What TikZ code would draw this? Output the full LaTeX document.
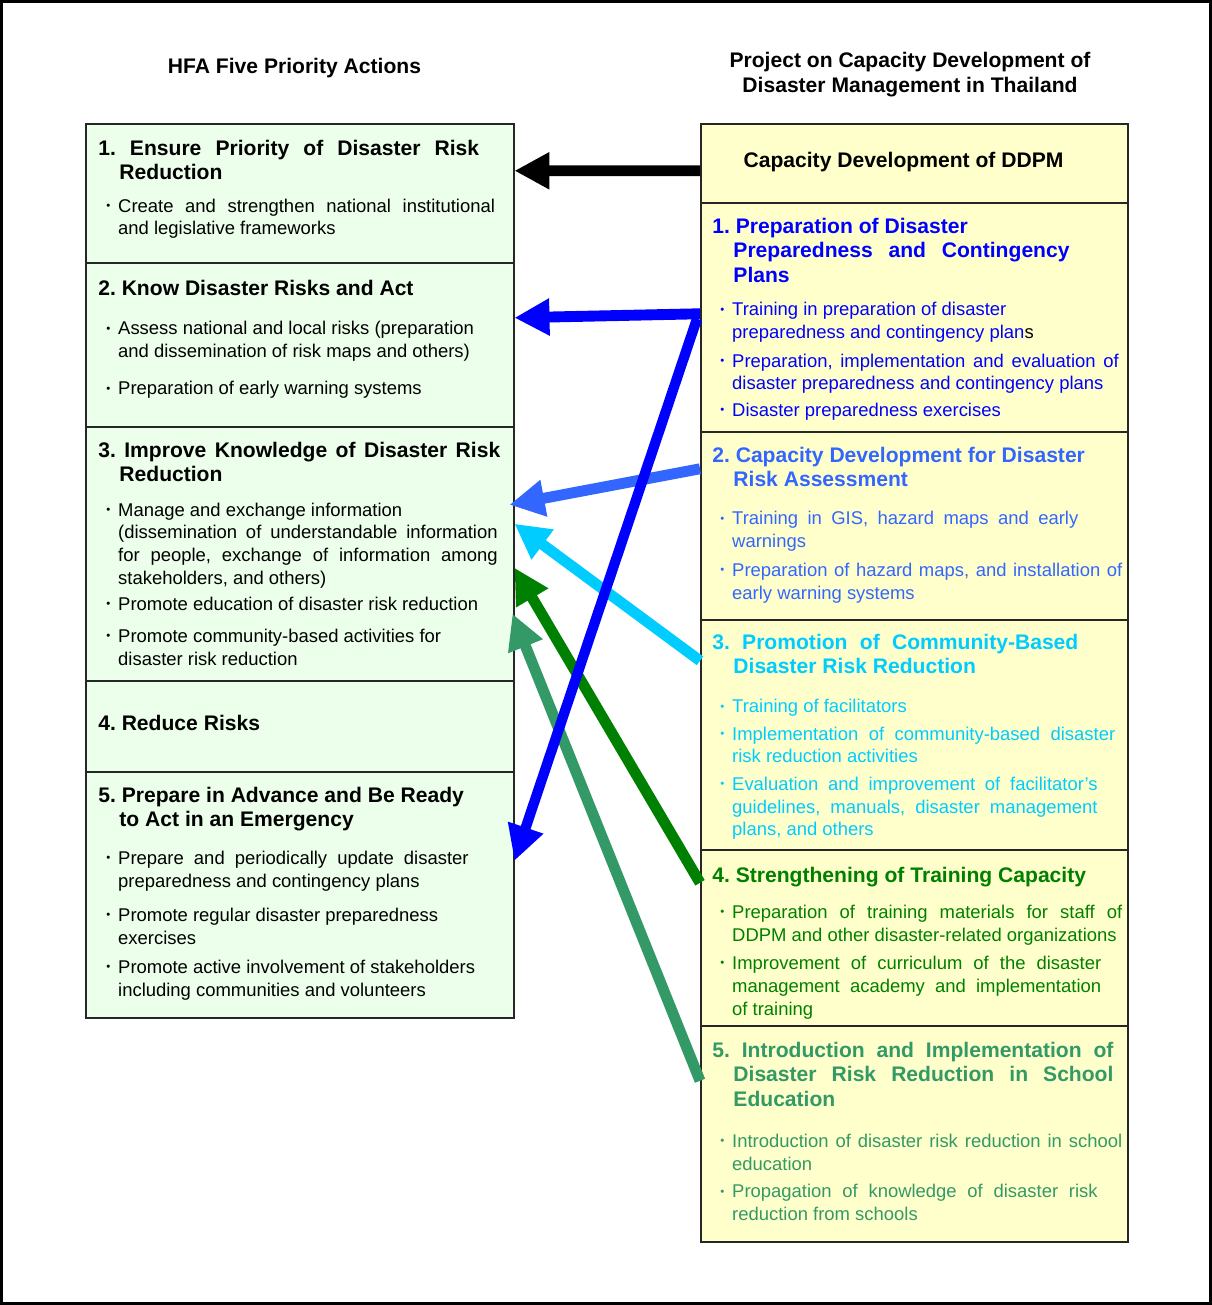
\documentclass[tikz,border=0pt]{standalone}
\usepackage{fontspec}
\setmainfont{Liberation Sans}
\usepackage{tikz}
\usetikzlibrary{arrows.meta,positioning}
\usepackage{xcolor}
\definecolor{hfafill}{HTML}{EBFFEB}
\definecolor{prjfill}{HTML}{FFFFCC}
\definecolor{prjblue}{HTML}{0000FF}
\definecolor{prjsky}{HTML}{3366FF}
\definecolor{prjcyan}{HTML}{00CCFF}
\definecolor{prjgreen}{HTML}{008000}
\definecolor{prjsea}{HTML}{339966}
\frenchspacing
\newlength{\bulw}\setlength{\bulw}{11.3pt}
% heading and bullet paragraphs, optional arg = right margin
\newcommand{\hd}[2][0pt]{{\fontsize{12}{14}\selectfont\bfseries
  \rightskip=#1\relax\spaceskip=0pt\xspaceskip=0pt
  \hangindent=12pt\hangafter=1\noindent #2\par}}
\newcommand{\itm}[2][0pt]{{\fontsize{10.5}{13}\selectfont
  \rightskip=#1\relax\spaceskip=0pt\xspaceskip=0pt
  \hangindent=\bulw\hangafter=1\noindent
  \makebox[\bulw][c]{\raisebox{1.4pt}{\fontsize{6.5}{6.5}\selectfont\textbullet}}#2\par}}
\newcommand{\gap}[1]{\vspace{#1}}
\tikzset{
  hfabox/.style={draw=black!85,line width=0.9pt,fill=hfafill,anchor=north west,
    inner sep=0pt,minimum width=8.56cm},
  prjbox/.style={draw=black!85,line width=0.9pt,fill=prjfill,anchor=north west,
    inner sep=0pt,minimum width=8.54cm},
  hfatext/.style={anchor=base west,inner sep=0pt,text width=8.04cm,
    font=\fontsize{10.5}{13}\selectfont},
  prjtext/.style={hfatext,text width=8.2cm},
  coltitle/.style={inner sep=0pt,align=center,font=\fontsize{12}{14.2}\selectfont\bfseries},
  link/.style={line width=6.2pt,-{Triangle[length=0.7cm,width=0.7cm]}}
}

\begin{document}
\begin{tikzpicture}[x=0.02cm,y=-0.02cm]
  \useasboundingbox (0,0) rectangle (1212,1305);
  \draw[line width=1.3pt] (1.5,1.5) rectangle (1210.5,1303.5);

  \node[coltitle,anchor=base] (hfa) at (294.5,73) {HFA Five Priority Actions};
  \node[coltitle] (prj) at (910,74.5) {Project on Capacity Development of\\Disaster Management in Thailand};

  % HFA priority actions
  \node[hfabox,minimum height=2.78cm] (pa1) at (85,123) {};
  \node[hfabox,minimum height=3.28cm] (pa2) at (85,262) {};
  \node[hfabox,minimum height=5.08cm] (pa3) at (85,426) {};
  \node[hfabox,minimum height=1.82cm] (pa4) at (85,680) {};
  \node[hfabox,minimum height=4.92cm] (pa5) at (85,771) {};

  \node[hfatext] (pa1t) at (98,155) {\hd[12pt]{1. Ensure Priority of Disaster Risk\linebreak Reduction}\gap{5.5pt}%
    \itm[3pt]{Create and strengthen national institutional\linebreak and legislative frameworks}};
  \node[hfatext] (pa2t) at (98,295) {\hd{2. Know Disaster Risks and Act}\gap{9.6pt}%
    \itm{Assess national and local risks (preparation\newline and dissemination of risk maps and others)}\gap{8.2pt}%
    \itm{Preparation of early warning systems}};
  \node[hfatext] (pa3t) at (98,457) {\hd{3. Improve Knowledge of Disaster Risk\linebreak Reduction}\gap{6.6pt}%
    \itm[1.5pt]{Manage and exchange information\newline (dissemination of understandable information\linebreak for people, exchange of information among\linebreak stakeholders, and others)}\gap{1.6pt}%
    \itm{Promote education of disaster risk reduction}\gap{5.3pt}%
    \itm{Promote community-based activities for\newline disaster risk reduction}};
  \node[hfatext] (pa4t) at (98,730) {\hd{4. Reduce Risks}};
  \node[hfatext] (pa5t) at (98,802) {\hd{5. Prepare in Advance and Be Ready\newline to Act in an Emergency}\gap{8.4pt}%
    \itm[18pt]{Prepare and periodically update disaster\linebreak preparedness and contingency plans}\gap{6.5pt}%
    \itm{Promote regular disaster preparedness\newline exercises}\gap{3.6pt}%
    \itm{Promote active involvement of stakeholders\newline including communities and volunteers}};

  % project components
  \node[prjbox,minimum height=1.58cm] (cd0) at (700,123) {};
  \node[prjbox,minimum height=4.58cm] (cd1) at (700,202) {};
  \node[prjbox,minimum height=3.76cm] (cd2) at (700,431) {};
  \node[prjbox,minimum height=4.60cm] (cd3) at (700,619) {};
  \node[prjbox,minimum height=3.52cm] (cd4) at (700,849) {};
  \node[prjbox,minimum height=4.32cm] (cd5) at (700,1025) {};

  \node[coltitle,anchor=base] (cd0t) at (903.5,167) {Capacity Development of DDPM};
  \node[prjtext,text=prjblue] (cd1t) at (712,233) {\hd[30pt]{1. Preparation of Disaster\newline Preparedness and Contingency\linebreak Plans}\gap{6.2pt}%
    \itm{Training in preparation of disaster\newline preparedness and contingency plan{\color{black}s}}\gap{3.1pt}%
    \itm[2pt]{Preparation, implementation and evaluation of\linebreak disaster preparedness and contingency plans}\gap{1.9pt}%
    \itm{Disaster preparedness exercises}};
  \node[prjtext,text=prjsky] (cd2t) at (712,462) {\hd{2. Capacity Development for Disaster\newline Risk Assessment}\gap{8.8pt}%
    \itm[25pt]{Training in GIS, hazard maps and early\linebreak warnings}\gap{3.3pt}%
    \itm{Preparation of hazard maps, and installation of\linebreak early warning systems}};
  \node[prjtext,text=prjcyan] (cd3t) at (712,649) {\hd[25pt]{3. Promotion of Community-Based\linebreak Disaster Risk Reduction}\gap{9.3pt}%
    \itm{Training of facilitators}\gap{2.5pt}%
    \itm[4pt]{Implementation of community-based disaster\linebreak risk reduction activities}\gap{2.6pt}%
    \itm[14pt]{Evaluation and improvement of facilitator's\linebreak guidelines, manuals, disaster management\linebreak plans, and others}};
  \node[prjtext,text=prjgreen] (cd4t) at (712,882) {\hd{4. Strengthening of Training Capacity}\gap{7.6pt}%
    \itm{Preparation of training materials for staff of\linebreak DDPM and other disaster-related organizations}\gap{3.1pt}%
    \itm[12pt]{Improvement of curriculum of the disaster\linebreak management academy and implementation\linebreak of training}};
  \node[prjtext,text=prjsea] (cd5t) at (712,1057) {\hd[5pt]{5. Introduction and Implementation of\linebreak Disaster Risk Reduction in School\linebreak Education}\gap{10.4pt}%
    \itm{Introduction of disaster risk reduction in school\linebreak education}\gap{2.6pt}%
    \itm[14pt]{Propagation of knowledge of disaster risk\linebreak reduction from schools}};

  % links
  \draw[link,black] ([shift={(0,7.5)}]cd0.west) -- ([shift={(0,-22.5)}]pa1.east);
  \draw[link,prjcyan] ([shift={(0,-74)}]cd3.west) -- ([shift={(0,-30)}]pa3.east);
  \draw[link,prjsky] ([shift={(0,-57)}]cd2.west) -- ([shift={(-5,-49)}]pa3.east);
  \draw[link,prjsea] ([shift={(0,-53)}]cd5.west) -- ([shift={(-2,60)}]pa3.east);
  \draw[link,prjgreen] ([shift={(0,-55)}]cd4.west) -- ([shift={(0,14)}]pa3.east);
  \draw[link,prjblue] ([shift={(0,-3.5)}]cd1.west) -- ([shift={(0,-27)}]pa2.east);
  \draw[link,prjblue,line width=5.8pt] ([shift={(-3,1.5)}]cd1.west) -- ([shift={(0,-34)}]pa5.east);
\end{tikzpicture}
\end{document}
